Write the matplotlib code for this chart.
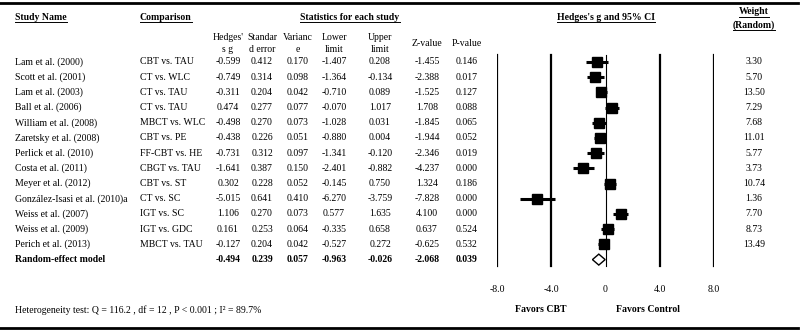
import matplotlib
matplotlib.use("Agg")
import matplotlib.pyplot as plt
from matplotlib.lines import Line2D
from matplotlib.patches import Polygon
from matplotlib.transforms import IdentityTransform

plt.rcParams['font.family'] = ['Liberation Serif', 'DejaVu Serif']
plt.rcParams['font.size'] = 7

# data
studies = ["Lam et al. (2000)", "Scott et al. (2001)", "Lam et al. (2003)", "Ball et al. (2006)",
           "William et al. (2008)", "Zaretsky et al. (2008)", "Perlick et al. (2010)",
           "Costa et al. (2011)", "Meyer et al. (2012)", "González-Isasi et al. (2010)a",
           "Weiss et al. (2007)", "Weiss et al. (2009)", "Perich et al. (2013)"]
comparisons = ["CBT vs. TAU", "CT vs. WLC", "CT vs. TAU", "CT vs. TAU", "MBCT vs. WLC",
               "CBT vs. PE", "FF-CBT vs. HE", "CBGT vs. TAU", "CBT vs. ST", "CT vs. SC",
               "IGT vs. SC", "IGT vs. GDC", "MBCT vs. TAU"]
hedges_g = [-0.599, -0.749, -0.311, 0.474, -0.498, -0.438, -0.731, -1.641, 0.302, -5.015, 1.106, 0.161, -0.127]
std_err = [0.412, 0.314, 0.204, 0.277, 0.270, 0.226, 0.312, 0.387, 0.228, 0.641, 0.270, 0.253, 0.204]
variance = [0.170, 0.098, 0.042, 0.077, 0.073, 0.051, 0.097, 0.150, 0.052, 0.410, 0.073, 0.064, 0.042]
lower = [-1.407, -1.364, -0.710, -0.070, -1.028, -0.880, -1.341, -2.401, -0.145, -6.270, 0.577, -0.335, -0.527]
upper = [0.208, -0.134, 0.089, 1.017, 0.031, 0.004, -0.120, -0.882, 0.750, -3.759, 1.635, 0.658, 0.272]
z_value = [-1.455, -2.388, -1.525, 1.708, -1.845, -1.944, -2.346, -4.237, 1.324, -7.828, 4.100, 0.637, -0.625]
p_value = [0.146, 0.017, 0.127, 0.088, 0.065, 0.052, 0.019, 0.000, 0.186, 0.000, 0.000, 0.524, 0.532]
weights = [3.30, 5.70, 13.50, 7.29, 7.68, 11.01, 5.77, 3.73, 10.74, 1.36, 7.70, 8.73, 13.49]

pooled = {"g": -0.494, "se": 0.239, "var": 0.057, "lo": -0.963, "hi": -0.026, "z": -2.068, "p": 0.039}
ticks = [-8, -4, 0, 4, 8]
tick_labels = ["-8.0", "-4.0", "0", "4.0", "8.0"]

W, H = 800, 333
ROW0, ROWH = 62, 15.2


def ry(p):
    # pixel row from top -> row units
    return (p - ROW0) / ROWH


fig = plt.figure(figsize=(W / 100, H / 100), dpi=100)
ax = fig.add_axes([0, 0, 1, 1])
ax.set_xlim(0, W)
ax.set_ylim(ry(H), ry(0))
ax.axis("off")

fx0, fx1 = 497, 714
fax = fig.add_axes([fx0 / W, 0, (fx1 - fx0) / W, 1])
fax.set_xlim(-8, 8)
fax.set_ylim(ry(H), ry(0))
fax.axis("off")
fax.patch.set_alpha(0)

# rules
ax.plot([0, 798], [ry(3), ry(3)], color="black", lw=2)
ax.plot([0, 798], [ry(328), ry(328)], color="black", lw=2)

# headers
underlined = []
underlined.append(ax.text(15, ry(17), "Study Name", fontweight="bold", va="center"))
underlined.append(ax.text(140, ry(17), "Comparison", fontweight="bold", va="center"))
underlined.append(ax.text(350, ry(17), "Statistics for each study", fontweight="bold", va="center", ha="center"))
underlined.append(ax.text(606, ry(17), "Hedges's g and 95% CI", fontweight="bold", va="center", ha="center"))
underlined.append(ax.text(754, ry(12), "Weight", fontweight="bold", va="center", ha="center"))
underlined.append(ax.text(754, ry(25), "(Random)", fontweight="bold", va="center", ha="center"))

col_x = [228, 262, 298, 334, 380, 427, 467]
sub1 = ["Hedges'", "Standar", "Varianc", "Lower", "Upper"]
sub2 = ["s g", "d error", "e", "limit", "limit"]
for x, a, b in zip(col_x, sub1, sub2):
    ax.text(x, ry(37), a, ha="center", va="center")
    ax.text(x, ry(49), b, ha="center", va="center")
ax.text(col_x[5], ry(43), "Z-value", ha="center", va="center")
ax.text(col_x[6], ry(43), "P-value", ha="center", va="center")

# study rows
for i, name in enumerate(studies):
    ax.text(15, i, name, va="center")
    ax.text(140, i, comparisons[i], va="center")
    vals = [hedges_g[i], std_err[i], variance[i], lower[i], upper[i], z_value[i], p_value[i]]
    for x, v in zip(col_x, vals):
        ax.text(x, i, f"{v:.3f}", ha="center", va="center")
    ax.text(754, i, f"{weights[i]:.2f}", ha="center", va="center")
    fax.plot([lower[i], upper[i]], [i, i], color="black", lw=2.2, solid_capstyle="butt")
    fax.plot(hedges_g[i], i, marker="s", ms=7.2, color="black", mec="black")

# pooled row
k = len(studies)
ax.text(15, k, "Random-effect model", va="center", fontweight="bold")
pvals = [pooled[c] for c in ["g", "se", "var", "lo", "hi", "z", "p"]]
for x, v in zip(col_x, pvals):
    ax.text(x, k, f"{v:.3f}", ha="center", va="center", fontweight="bold")
fax.add_patch(Polygon([[pooled["lo"], k], [pooled["g"], k - 0.36], [pooled["hi"], k], [pooled["g"], k + 0.36]],
                      closed=True, facecolor="white", edgecolor="black", lw=1.0, zorder=3))

# reference lines
for t in ticks:
    fax.plot([t, t], [-0.46, k + 0.45], color="black", lw=0.8 if t == 0 else 1.6, zorder=1)
for t, lab in zip(ticks, tick_labels):
    fax.text(t, ry(289), lab, ha="center", va="center")
fax.text(-4.8, ry(309), "Favors CBT", ha="center", va="center", fontweight="bold")
fax.text(3.1, ry(309), "Favors Control", ha="center", va="center", fontweight="bold")

ax.text(15, ry(310), "Heterogeneity test: Q = 116.2 , df = 12 , P < 0.001 ; I² = 89.7%", va="center")

# underline the header texts
fig.canvas.draw()
r = fig.canvas.get_renderer()
for t in underlined:
    bb = t.get_window_extent(r)
    fig.add_artist(Line2D([bb.x0, bb.x1], [bb.y0, bb.y0], color="black", lw=0.7, transform=IdentityTransform()))

fig.savefig("out.png", dpi=100)
